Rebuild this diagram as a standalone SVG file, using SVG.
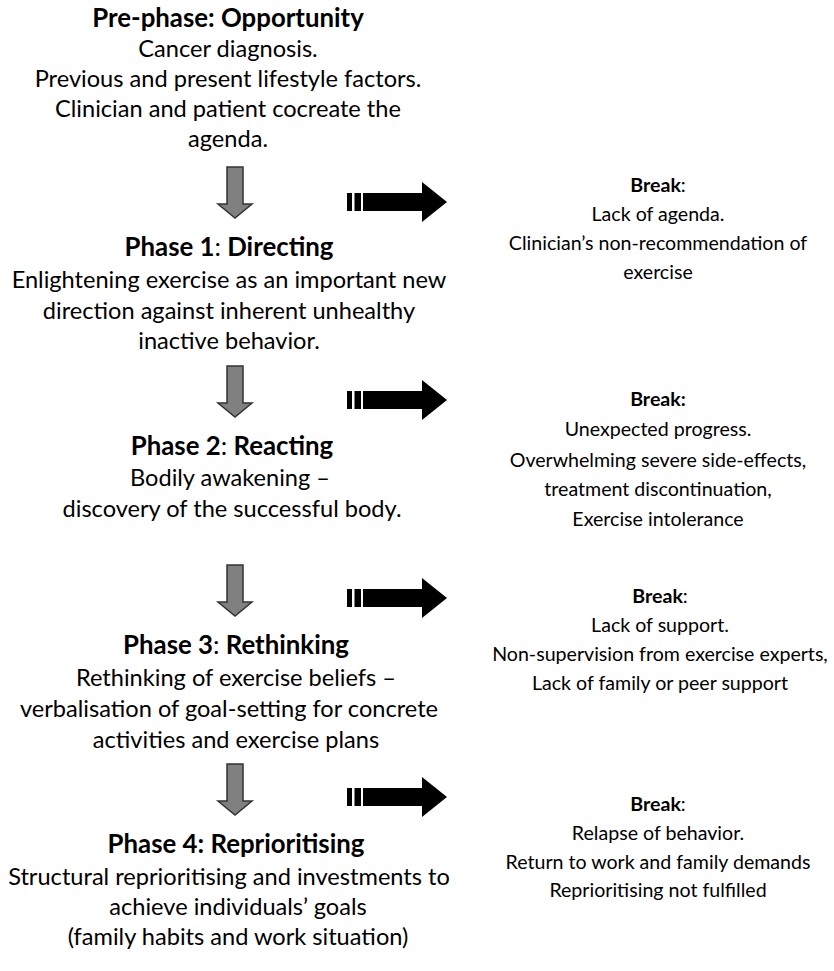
<svg xmlns="http://www.w3.org/2000/svg" width="834" height="971" viewBox="0 0 834 971">
<style>
.t{font-family:Lato,"Open Sans","Liberation Sans",sans-serif;fill:#000;text-anchor:middle}
.h{font-size:25.8px;font-weight:bold}
.b{font-size:23.6px}
.r{font-size:19.6px}
.bd{font-weight:bold}
.nb{font-weight:normal}
.down{fill:#808080;stroke:#333;stroke-width:1.5;stroke-linejoin:miter}
.right{fill:#000}
</style>
<defs>
<path id="downArrow" class="down" d="M-8,0 H8 V37 H17 L0,51 L-17,37 H-8 Z"/>
<g id="rightArrow">
<rect x="0" y="-9" width="5" height="18" class="right"/>
<rect x="7.5" y="-9" width="6.5" height="18" class="right"/>
<path class="right" d="M16,-9 H75 V-20 L100,0 L75,20 V9 H16 Z"/>
</g>
</defs>
<g id="connectors">
<use href="#downArrow" x="235" y="167"/>
<use href="#downArrow" x="235" y="366"/>
<use href="#downArrow" x="235" y="565"/>
<use href="#downArrow" x="235" y="764"/>
<use href="#rightArrow" x="347" y="202"/>
<use href="#rightArrow" x="347" y="400"/>
<use href="#rightArrow" x="347" y="598"/>
<use href="#rightArrow" x="347" y="797"/>
</g>
<g id="prephase">
<text class="t h" x="228" y="27">Pre-phase: Opportunity</text>
<text class="t b" x="228" y="57">Cancer diagnosis.</text>
<text class="t b" x="228" y="87">Previous and present lifestyle factors.</text>
<text class="t b" x="228" y="117">Clinician and patient cocreate the</text>
<text class="t b" x="228" y="147">agenda.</text>
</g>
<g id="phase1">
<text class="t h" x="229" y="256">Phase 1<tspan class="nb">:</tspan> Directing</text>
<text class="t b" x="229" y="288">Enlightening exercise as an important new</text>
<text class="t b" x="229" y="319">direction against inherent unhealthy</text>
<text class="t b" x="229" y="349">inactive behavior.</text>
</g>
<g id="phase2">
<text class="t h" x="232" y="455">Phase 2<tspan class="nb">:</tspan> Reacting</text>
<text class="t b" x="230" y="486">Bodily awakening –</text>
<text class="t b" x="232" y="517">discovery of the successful body.</text>
</g>
<g id="phase3">
<text class="t h" x="236" y="654">Phase 3<tspan class="nb">:</tspan> Rethinking</text>
<text class="t b" x="236" y="686">Rethinking of exercise beliefs –</text>
<text class="t b" x="229" y="717">verbalisation of goal-setting for concrete</text>
<text class="t b" x="236" y="748">activities and exercise plans</text>
</g>
<g id="phase4">
<text class="t h" x="236" y="853">Phase 4: Reprioritising</text>
<text class="t b" x="229" y="885">Structural reprioritising and investments to</text>
<text class="t b" x="238" y="915">achieve individuals’ goals</text>
<text class="t b" x="238" y="945">(family habits and work situation)</text>
</g>
<g id="break1">
<text class="t r" x="658" y="192"><tspan class="bd">Break</tspan>:</text>
<text class="t r" x="658" y="221">Lack of agenda.</text>
<text class="t r" x="658" y="250">Clinician’s non-recommendation of</text>
<text class="t r" x="658" y="279">exercise</text>
</g>
<g id="break2">
<text class="t r bd" x="658" y="406">Break:</text>
<text class="t r" x="658" y="436">Unexpected progress.</text>
<text class="t r" x="658" y="467">Overwhelming severe side-effects,</text>
<text class="t r" x="658" y="496">treatment discontinuation,</text>
<text class="t r" x="658" y="526">Exercise intolerance</text>
</g>
<g id="break3">
<text class="t r" x="660" y="603"><tspan class="bd">Break</tspan>:</text>
<text class="t r" x="660" y="632">Lack of support.</text>
<text class="t r" x="660" y="661">Non-supervision from exercise experts,</text>
<text class="t r" x="660" y="690">Lack of family or peer support</text>
</g>
<g id="break4">
<text class="t r" x="658" y="811"><tspan class="bd">Break</tspan>:</text>
<text class="t r" x="658" y="840">Relapse of behavior.</text>
<text class="t r" x="658" y="869">Return to work and family demands</text>
<text class="t r" x="658" y="897">Reprioritising not fulfilled</text>
</g>
</svg>
